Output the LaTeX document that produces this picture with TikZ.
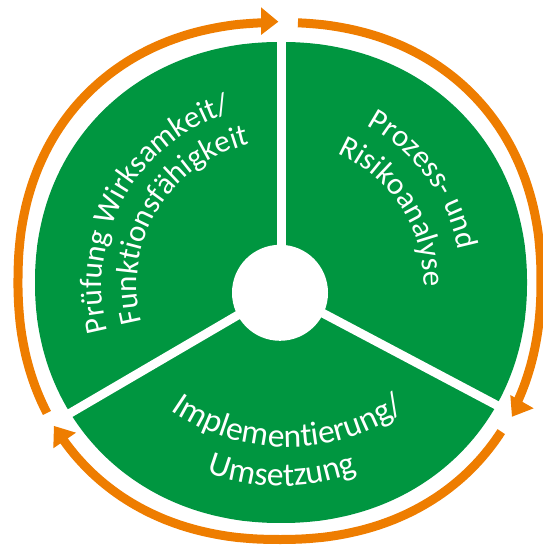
\documentclass[tikz,border=0pt]{standalone}
\usepackage{fontspec}
\setmainfont{Carlito}
\usetikzlibrary{decorations.text}
\definecolor{diskgreen}{RGB}{0,150,64}
\definecolor{ringorange}{RGB}{238,125,0}
\newcommand{\lblfont}{\fontsize{31}{31}\selectfont}
\newcommand{\lowfont}{\fontsize{33.5}{33.5}\selectfont}
\begin{document}
\begin{tikzpicture}[x=1pt,y=1pt,
  declare function={
    gx(\t)=sign(cos(\t))*pow(abs(cos(\t))+0.00001,0.952);
    gy(\t)=sign(sin(\t))*pow(abs(sin(\t))+0.00001,0.952);
    ox(\t)=sign(cos(\t))*pow(abs(cos(\t))+0.00001,0.909);
    oy(\t)=sign(sin(\t))*pow(abs(sin(\t))+0.00001,0.909);
  },
  sepline/.style={white, line width=8.8pt},
  ringarc/.style={ringorange, line width=9pt, line join=round},
  arrowtip/.style={fill=ringorange},
  curvedlabel/.style={decorate, decoration={text along path, text align=center, text color=white, text={|\lblfont|#1}}},
  lowlabel/.style={decorate, decoration={text along path, text align=center, text color=white, text={|\lowfont|#1}}}
]
\useasboundingbox (0,0) rectangle (542,556);
% green disk
\fill[diskgreen] plot[domain=0:360, samples=361, variable=\t] ({281+246*gx(\t)},{273.5+240.5*gy(\t)}) -- cycle;
% separators
\coordinate (hub) at (280,265.5);
\coordinate (hubtop) at (281.5,265.5);
\coordinate (sepT) at (281.5,522);
\coordinate (sepL) at ([shift={(hub)}]210.3:255);
\coordinate (sepR) at ([shift={(hub)}]332.1:255);
\draw[sepline] (hubtop) -- (sepT);
\draw[sepline] (hub) -- (sepL);
\draw[sepline] (hub) -- (sepR);
% hub circle
\node[circle, fill=white, inner sep=0pt, minimum size=96pt] (hubdisk) at (280,263.2) {};
% orange ring segments
\draw[ringarc] plot[domain=-26:86.9, samples=90, variable=\t] ({279.5+261.5*ox(\t)},{275+258.5*oy(\t)});
\draw[ringarc] plot[domain=-145:-33.5, samples=90, variable=\t] ({279.5+261.5*ox(\t)},{275+258.5*oy(\t)});
\draw[ringarc] plot[domain=92:208.5, samples=90, variable=\t] ({279.5+261.5*ox(\t)},{275+258.5*oy(\t)});
% arrowheads
\fill[arrowtip] (261,548.7) -- (278.3,534.3) -- (261,521) -- cycle;
\fill[arrowtip] (510.3,161) -- (533.7,147.7) -- (512,139.3) -- cycle;
\fill[arrowtip] (53.3,107.7) -- (76,123.3) -- (54,130) -- cycle;
% labels
\path[curvedlabel={Prozess- und}] ([shift={(281,271)}]96.5:181) arc[start angle=96.5, end angle=-23.5, radius=181];
\path[curvedlabel={Risikoanalyse}] ([shift={(281,271)}]93:143) arc[start angle=93, end angle=-27, radius=143];
\path[curvedlabel={Prüfung Wirksamkeit/}] ([shift={(281,271)}]230.7:179) arc[start angle=230.7, end angle=70.7, radius=179];
\path[curvedlabel={Funktionsfähigkeit}] ([shift={(281,271)}]228.75:144) arc[start angle=228.75, end angle=68.75, radius=144];
\path[lowlabel={Implementierung/}] ([shift={(288,313)}]200:204) arc[start angle=200, end angle=340, radius=204];
\path[lowlabel={Umsetzung}] ([shift={(282,275)}]200:205) arc[start angle=200, end angle=340, radius=205];
\end{tikzpicture}
\end{document}
